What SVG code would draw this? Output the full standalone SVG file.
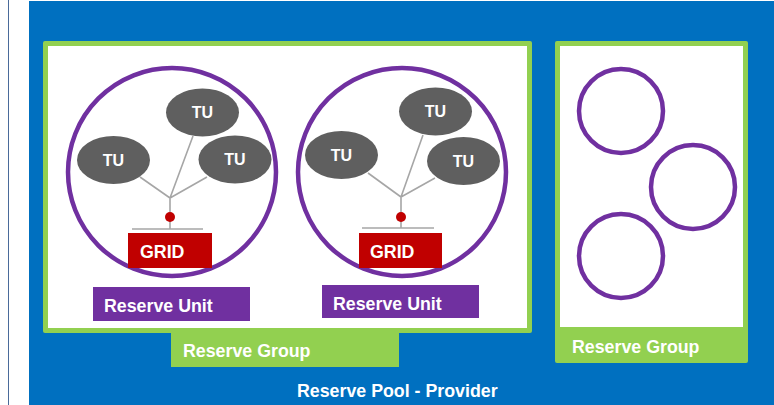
<svg xmlns="http://www.w3.org/2000/svg" width="774" height="405" viewBox="0 0 774 405">
<style>
.lbl{font-family:"Liberation Sans",Arial,sans-serif;font-weight:bold;font-size:17.8px;fill:#fff}
.tu{font-family:"Liberation Sans",Arial,sans-serif;font-weight:bold;font-size:16px;fill:#fff}
.green{fill:#92D050}
.white{fill:#fff}
.ru{fill:none;stroke:#7030A0;stroke-width:4.5}
.tuE{fill:#5F5F5F}
.wire{stroke:#A6A6A6;stroke-width:1.6;fill:none}
.grid{fill:#C00000}
.dot{fill:#C00000}
.purp{fill:#7030A0}
</style>
<rect x="0" y="0" width="774" height="405" fill="#fff"/>
<line x1="8.5" y1="0" x2="8.5" y2="405" stroke="#4A6A9A" stroke-width="1"/>
<g id="pool">
<rect x="29" y="1" width="745" height="404" fill="#0070C0"/>
<text class="lbl" x="297" y="397">Reserve Pool - Provider</text>
</g>
<g id="group1">
<rect class="green" x="43" y="41" width="489" height="292" rx="2"/>
<rect class="white" x="48" y="46" width="479" height="282"/>
<rect class="green" x="171" y="328" width="228" height="39"/>
<text class="lbl" x="183" y="357">Reserve Group</text>
</g>
<g id="group2">
<rect class="green" x="555" y="41" width="193" height="322" rx="2"/>
<rect class="white" x="560" y="46" width="183" height="281"/>
<text class="lbl" x="572" y="353">Reserve Group</text>
<circle class="ru" cx="621" cy="111" r="42"/>
<circle class="ru" cx="693" cy="187" r="42"/>
<circle class="ru" cx="621" cy="256" r="42"/>
</g>
<g id="connectors">
<path class="wire" d="M170 198 L193 136 M170 198 L140 177 M170 198 L207 177 M170 198 L170 229 M132 229 L203 229"/>
<path class="wire" d="M401 197 L423 135 M401 197 L368 173 M401 197 L435 178 M401 197 L401 228 M362 228 L434 228"/>
</g>
<g id="unit1">
<circle class="ru" cx="172" cy="172" r="104"/>
<ellipse class="tuE" cx="202.5" cy="112.5" rx="36.5" ry="24"/>
<text class="tu" x="202.5" y="118" text-anchor="middle">TU</text>
<ellipse class="tuE" cx="113.5" cy="160" rx="36.5" ry="24"/>
<text class="tu" x="113.5" y="166" text-anchor="middle">TU</text>
<ellipse class="tuE" cx="235" cy="159.5" rx="36.5" ry="24"/>
<text class="tu" x="235" y="165" text-anchor="middle">TU</text>
<circle class="dot" cx="170" cy="217" r="5"/>
<rect class="grid" x="128" y="233" width="84" height="35"/>
<text class="lbl" x="140" y="258">GRID</text>
<rect class="purp" x="93" y="287" width="157" height="34"/>
<text class="lbl" x="104" y="312">Reserve Unit</text>
</g>
<g id="unit2">
<circle class="ru" cx="402" cy="172" r="104"/>
<ellipse class="tuE" cx="435.5" cy="111.5" rx="36.5" ry="24"/>
<text class="tu" x="435.5" y="117" text-anchor="middle">TU</text>
<ellipse class="tuE" cx="341.5" cy="155" rx="36.5" ry="24"/>
<text class="tu" x="341.5" y="161" text-anchor="middle">TU</text>
<ellipse class="tuE" cx="463.5" cy="161" rx="36.5" ry="24"/>
<text class="tu" x="463.5" y="167" text-anchor="middle">TU</text>
<circle class="dot" cx="401" cy="217" r="5"/>
<rect class="grid" x="359" y="233" width="83" height="35"/>
<text class="lbl" x="370" y="258">GRID</text>
<rect class="purp" x="322" y="285" width="157" height="33"/>
<text class="lbl" x="333" y="310">Reserve Unit</text>
</g>
</svg>
